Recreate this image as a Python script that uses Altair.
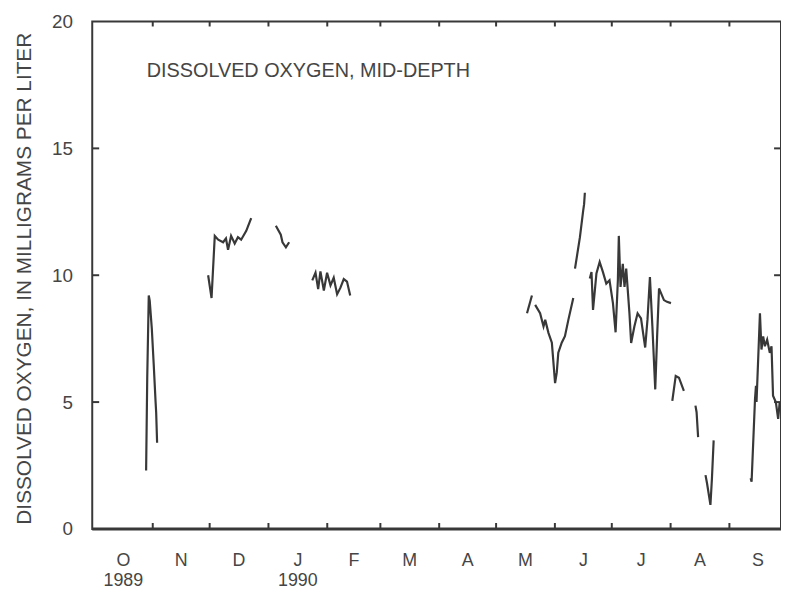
import altair as alt
import pandas as pd

# Days since 1 October 1989, dissolved oxygen (mg/L), record segment id
days = [
    27.5, 28.1, 28.9, 29.4, 30.5, 31.5, 32.5, 32.8, 33.3,
    60.2, 62.0, 63.7, 65.5, 68.1, 69.6, 70.7, 72.3, 74.2, 75.9, 77.6, 80.3, 82.9,
    95.9, 98.5, 99.4, 101.2, 102.9,
    115.1, 116.8, 118.2, 119.4, 121.2, 122.9, 124.7, 126.4, 128.2, 129.9, 131.7, 133.4, 135.1,
    228.3, 230.9,
    232.6, 235.2, 237.0, 237.9, 239.6, 241.4, 243.1, 244.0, 244.8, 246.6, 248.3, 250.1, 252.7,
    253.6, 256.2, 257.9, 258.4, 258.8,
    261.4, 262.3, 263.1, 264.9, 266.6, 268.3, 270.1, 271.8, 273.6, 275.0, 276.2, 276.7, 277.6,
    278.8, 279.7, 280.6, 282.3, 283.2, 284.9, 286.6, 288.4, 290.6, 291.8, 293.1, 294.4, 295.9,
    296.9, 297.9, 300.5, 302.1, 304.2,
    304.9, 306.7, 308.4, 311.0,
    317.1, 317.7, 318.5,
    322.4, 323.2, 325.0, 325.8, 326.7,
    346.2, 346.7, 348.5, 349.0, 349.3, 351.1, 351.9, 352.8, 353.7, 354.9, 356.3, 357.2, 358.0,
    359.5, 360.7, 361.5,
]
oxygen = [
    2.3, 6.0, 9.2, 9.0, 7.9, 6.5, 5.0, 4.6, 3.4,
    10.0, 9.1, 11.55, 11.4, 11.3, 11.45, 11.0, 11.55, 11.25, 11.5, 11.4, 11.75, 12.25,
    11.95, 11.6, 11.3, 11.1, 11.3,
    9.8, 10.1, 9.45, 10.15, 9.4, 10.1, 9.6, 9.9, 9.25, 9.5, 9.85, 9.75, 9.2,
    8.5, 9.2,
    8.83, 8.5, 7.98, 8.24, 7.73, 7.34, 5.75, 6.17, 6.95, 7.34, 7.6, 8.24, 9.1,
    10.26, 11.5, 12.54, 12.8, 13.25,
    9.87, 10.13, 8.63, 10.07, 10.52, 10.13, 9.67, 9.8, 8.9, 7.75, 9.8, 11.55, 9.54,
    10.45, 9.54, 10.26, 8.5, 7.33, 7.98, 8.5, 8.3, 7.15, 8.24, 9.93, 7.98, 5.5,
    7.6, 9.48, 9.02, 8.95, 8.9,
    5.05, 6.03, 5.96, 5.44,
    4.86, 4.6, 3.62,
    2.12, 1.8, 0.95, 2.0, 3.49,
    2.0, 1.86, 5.12, 5.64, 5.0, 8.5, 7.07, 7.59, 7.2, 7.46, 6.94, 7.2, 5.25,
    4.99, 4.34, 4.99,
]
segment = (
    [1] * 9 + [2] * 13 + [3] * 5 + [4] * 13 + [5] * 2 + [6] * 13 + [7] * 5
    + [8] * 31 + [9] * 4 + [10] * 3 + [11] * 5 + [12] * 16
)

# Month boundaries (days since 1 Oct 1989) and month label positions
month_starts = [31, 61, 92, 123, 151, 182, 212, 243, 273, 304, 335]
month_mids = [15.5, 46, 76.5, 107.5, 137, 166.5, 197, 227.5, 258, 288.5, 319.5, 350]
month_labels = ["O", "N", "D", "J", "F", "M", "A", "M", "J", "J", "A", "S"]
year_pos = [15.5, 107.5]
year_labels = ["1989", "1990"]
y_ticks = [5, 10, 15]

W, H = 695, 512
FONT = "Liberation Sans"
TXT = "#454545"
LINE = "#383838"

df = pd.DataFrame({"day": days, "do": oxygen, "seg": segment})
ticks_df = pd.DataFrame({"day": month_starts})
mlab_df = pd.DataFrame({"day": month_mids, "lab": month_labels})
ylab_df = pd.DataFrame({"day": year_pos, "lab": year_labels})
ytick_df = pd.DataFrame({"do": y_ticks})

xs = alt.Scale(domain=[-0.9, 362.2], nice=False, zero=False)
ys = alt.Scale(domain=[0, 20], nice=False, zero=True)

line = alt.Chart(df).mark_line(color=LINE, strokeWidth=2.2).encode(
    x=alt.X("day:Q", scale=xs, axis=None),
    y=alt.Y(
        "do:Q",
        scale=ys,
        axis=alt.Axis(
            values=[0, 5, 10, 15, 20],
            title="DISSOLVED OXYGEN, IN MILLIGRAMS PER LITER",
            ticks=False,
            tickSize=0,
            domain=False,
            grid=False,
            labelPadding=20,
            labelFontSize=19,
            labelFont=FONT,
            labelColor=TXT,
            titleFont=FONT,
            titleFontSize=21,
            titleFontWeight="normal",
            titleColor=TXT,
            titleAngle=270,
            titleX=-68,
            titleY=H / 2 + 3,
            titleAlign="center",
            titleBaseline="middle",
        ),
    ),
    detail="seg:N",
)

bottom_ticks = alt.Chart(ticks_df).mark_rule(color=LINE, strokeWidth=2).encode(
    x=alt.X("day:Q", scale=xs), y=alt.value(H - 6), y2=alt.value(H)
)
top_ticks = alt.Chart(ticks_df).mark_rule(color=LINE, strokeWidth=2).encode(
    x=alt.X("day:Q", scale=xs), y=alt.value(0), y2=alt.value(5)
)
left_ticks = alt.Chart(ytick_df).mark_rule(color=LINE, strokeWidth=2).encode(
    y=alt.Y("do:Q", scale=ys), x=alt.value(0), x2=alt.value(7)
)
right_ticks = alt.Chart(ytick_df).mark_rule(color=LINE, strokeWidth=2).encode(
    y=alt.Y("do:Q", scale=ys), x=alt.value(W - 7), x2=alt.value(W)
)
bottom_line = alt.Chart(ytick_df.head(1)).mark_rule(color=LINE, strokeWidth=3).encode(
    x=alt.value(0), x2=alt.value(W), y=alt.value(H)
)

month_text = alt.Chart(mlab_df).mark_text(
    font=FONT, fontSize=18, color=TXT, align="center", baseline="middle"
).encode(x=alt.X("day:Q", scale=xs), y=alt.value(H + 32), text="lab:N")

year_text = alt.Chart(ylab_df).mark_text(
    font=FONT, fontSize=18, color=TXT, align="center", baseline="middle"
).encode(x=alt.X("day:Q", scale=xs), y=alt.value(H + 53), text="lab:N")

annot = alt.Chart(pd.DataFrame({"t": ["DISSOLVED OXYGEN, MID-DEPTH"]})).mark_text(
    font=FONT, fontSize=20, color=TXT, align="left", baseline="middle"
).encode(x=alt.value(55), y=alt.value(50), text="t:N")

chart = (
    alt.layer(line, bottom_ticks, top_ticks, left_ticks, right_ticks, bottom_line,
              month_text, year_text, annot)
    .properties(
        width=W,
        height=H,
        autosize=alt.AutoSizeParams(type="none"),
        padding={"left": 85, "top": 11, "right": 0, "bottom": 62},
        background="white",
    )
    .configure_view(stroke=LINE, strokeWidth=2)
    .configure_axis(grid=False)
)

chart.save("out.html", embed_options={"renderer": "svg", "actions": False})
